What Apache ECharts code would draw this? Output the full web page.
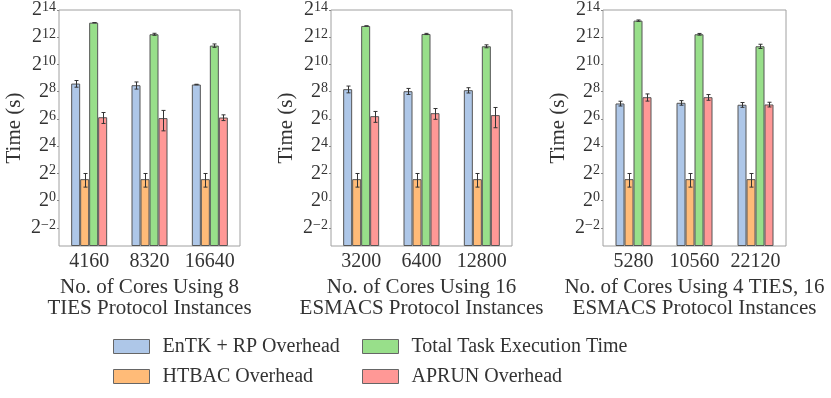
<!DOCTYPE html>
<html>
<head>
<meta charset="utf-8">
<script src="https://cdn.jsdelivr.net/npm/echarts@6/dist/echarts.min.js"></script>
<style>html,body{margin:0;padding:0;background:#fff}#c{width:831px;height:398px}</style>
</head>
<body>
<div id="c"></div>
<script>
// ---- data (seconds) ----
var seriesNames = ['EnTK + RP Overhead', 'HTBAC Overhead', 'Total Task Execution Time', 'APRUN Overhead'];
var cores1 = ['4160', '8320', '16640'];
var cores2 = ['3200', '6400', '12800'];
var cores3 = ['5280', '10560', '22120'];
var xNames = ['No. of Cores Using 8\nTIES Protocol Instances',
              'No. of Cores Using 16\nESMACS Protocol Instances',
              'No. of Cores Using 4 TIES, 16\nESMACS Protocol Instances'];

var entk1 = [388, 357, 370],   entkErr1 = [65, 64, 5];
var htbac1 = [3, 3, 3],        htbacErr1 = [1, 1, 1];
var total1 = [8600, 4770, 2680], totalErr1 = [30, 240, 230];
var aprun1 = [70, 67, 69],     aprunErr1 = [19, 32, 10];

var entk2 = [292, 263, 277],   entkErr2 = [50, 40, 37];
var htbac2 = [3, 3, 3],        htbacErr2 = [1, 1, 1];
var total2 = [7280, 4840, 2590], totalErr2 = [30, 150, 195];
var aprun2 = [74, 86, 78],     aprunErr2 = [20, 23, 37];

var entk3 = [141, 146, 132],   entkErr3 = [17, 17, 16];
var htbac3 = [3, 3, 3],        htbacErr3 = [1, 1, 1];
var total3 = [9540, 4770, 2590], totalErr3 = [330, 200, 280];
var aprun3 = [194, 194, 134],  aprunErr3 = [35, 28, 16];

var yMinSec = 0.1, yMaxSec = 16384;
var tickExponents = [-2, 0, 2, 4, 6, 8, 10, 12, 14];

// ---- build ----
var colors = ['#aec7e8', '#ffbb78', '#98df8a', '#ff9896'];
var FONT = "'Liberation Serif', serif";
var TXT = '#333';
var base = Math.log2(yMinSec);
function toAxis(v) { return Math.log2(v) - base; }
var yMax = Math.log2(yMaxSec) - base;
var tickVals = tickExponents.map(function (e) { return e - base; });

var panels = [
  { cats: cores1, vals: [entk1, htbac1, total1, aprun1], errs: [entkErr1, htbacErr1, totalErr1, aprunErr1] },
  { cats: cores2, vals: [entk2, htbac2, total2, aprun2], errs: [entkErr2, htbacErr2, totalErr2, aprunErr2] },
  { cats: cores3, vals: [entk3, htbac3, total3, aprun3], errs: [entkErr3, htbacErr3, totalErr3, aprunErr3] }
];
var grids = [
  { left: 59, right: 831 - 240, top: 10, bottom: 398 - 246 },
  { left: 331, right: 831 - 512, top: 10, bottom: 398 - 246 },
  { left: 603, right: 831 - 786, top: 10, bottom: 398 - 246 }
];
var BW = 9;

function legendCfg(names, left) {
  return {
    data: names, orient: 'vertical', left: left, top: 336, height: 80, padding: 0,
    itemWidth: 36, itemHeight: 14, itemGap: 9, icon: 'rect',
    itemStyle: { borderColor: '#666', borderWidth: 1 },
    textStyle: { fontFamily: FONT, fontSize: 20, lineHeight: 21, color: TXT, padding: [0, 0, 0, 8] }
  };
}

var option = {
  animation: false,
  backgroundColor: '#fff',
  textStyle: { fontFamily: FONT },
  grid: grids.map(function (g) {
    return Object.assign({ show: true, borderColor: '#a0a0a0', borderWidth: 1, containLabel: false }, g);
  }),
  xAxis: [], yAxis: [], series: [],
  legend: [ legendCfg([seriesNames[0], seriesNames[1]], 113),
            legendCfg([seriesNames[2], seriesNames[3]], 362) ]
};

panels.forEach(function (p, pi) {
  option.xAxis.push({
    type: 'category', gridIndex: pi, data: p.cats,
    axisLine: { show: false }, axisTick: { show: false },
    axisLabel: { interval: 0, hideOverlap: false, fontFamily: FONT, fontSize: 20, color: TXT, margin: 6 },
    name: xNames[pi], nameLocation: 'middle', nameGap: 24,
    nameTextStyle: { fontFamily: FONT, fontSize: 21, color: TXT, lineHeight: 21, verticalAlign: 'top' }
  });
  option.yAxis.push({
    type: 'value', gridIndex: pi, min: 0, max: yMax,
    splitLine: { show: false }, axisLine: { show: false },
    axisTick: { show: true, customValues: tickVals, length: 2, inside: false, lineStyle: { color: '#888' } },
    axisLabel: {
      customValues: tickVals, margin: 3, color: TXT,
      formatter: function (v) {
        var e = Math.round(v + base);
        var s = e < 0 ? '\u2212' + (-e) : '' + e;
        return '{b|2}{e|' + s + '}';
      },
      rich: {
        b: { fontFamily: FONT, fontSize: 20, lineHeight: 20, color: TXT, verticalAlign: 'middle' },
        e: { fontFamily: FONT, fontSize: 14, lineHeight: 10, color: TXT, verticalAlign: 'top' }
      }
    },
    name: 'Time (s)', nameLocation: 'middle', nameGap: 34,
    nameTextStyle: { fontFamily: FONT, fontSize: 21, color: TXT }
  });
  p.vals.forEach(function (arr, si) {
    option.series.push({
      type: 'bar', name: seriesNames[si], xAxisIndex: pi, yAxisIndex: pi,
      barWidth: BW, barGap: '0%',
      itemStyle: { color: colors[si], borderColor: '#555', borderWidth: 1 },
      data: arr.map(toAxis)
    });
  });
  p.vals.forEach(function (arr, si) {
    var errData = arr.map(function (v, i) {
      var e = p.errs[si][i];
      return [i, toAxis(Math.max(v - e, yMinSec)), toAxis(v + e)];
    });
    option.series.push({
      type: 'custom', name: seriesNames[si], xAxisIndex: pi, yAxisIndex: pi, z: 10,
      silent: true,
      renderItem: (function (si) {
        return function (params, api) {
          var lo = api.coord([api.value(0), api.value(1)]);
          var hi = api.coord([api.value(0), api.value(2)]);
          var x = Math.round(lo[0] + (si - 1.5) * BW) + 0.5;
          var st = { stroke: '#333', lineWidth: 1 };
          return { type: 'group', children: [
            { type: 'line', shape: { x1: x, y1: lo[1], x2: x, y2: hi[1] }, style: st },
            { type: 'line', shape: { x1: x - 2, y1: lo[1], x2: x + 2, y2: lo[1] }, style: st },
            { type: 'line', shape: { x1: x - 2, y1: hi[1], x2: x + 2, y2: hi[1] }, style: st }
          ]};
        };
      })(si),
      encode: { x: 0, y: [1, 2] },
      data: errData
    });
  });
});

var chart = echarts.init(document.getElementById('c'), null, { renderer: 'canvas' });
chart.setOption(option);
</script>
</body>
</html>
